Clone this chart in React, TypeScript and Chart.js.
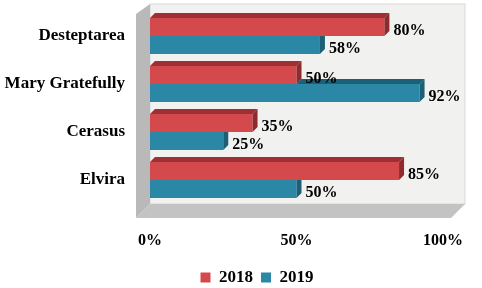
import React, { useEffect, useRef } from "react";
import { Chart, registerables } from "chart.js";

Chart.register(...registerables);

const categories = ["Desteptarea", "Mary Gratefully", "Cerasus", "Elvira"];
const series2018 = [80, 50, 35, 85];
const series2019 = [58, 92, 25, 50];
const seriesNames = ["2018", "2019"];
const xTicks = [0, 50, 100];

const RED = "#d4494c";
const RED_DARK = "#9e2f33";
const BLUE = "#2a87a6";
const BLUE_DARK = "#1d5f76";
const FONT = "'Liberation Serif', 'Times New Roman', serif";

const threeD = {
  id: "threeD",
  afterLayout(chart: any) {
    if (chart.legend) {
      chart.legend.left += 32;
      chart.legend.right += 32;
      chart.legend.top += 8;
      chart.legend.bottom += 8;
    }
  },
  beforeDatasetsDraw(chart: any) {
    const { ctx, chartArea } = chart;
    const { left, right, top, bottom } = chartArea;
    ctx.save();
    ctx.fillStyle = "#f1f1f0";
    ctx.fillRect(left, top - 8, right - left + 22, bottom - top + 8);
    ctx.strokeStyle = "#d9d9d9";
    ctx.lineWidth = 1;
    ctx.strokeRect(left, top - 8, right - left + 22, bottom - top + 8);
    ctx.fillStyle = "#b9b9b9";
    ctx.beginPath();
    ctx.moveTo(left - 14, top + 2);
    ctx.lineTo(left, top - 8);
    ctx.lineTo(left, bottom);
    ctx.lineTo(left - 14, bottom + 14);
    ctx.closePath();
    ctx.fill();
    ctx.fillStyle = "#c3c3c3";
    ctx.beginPath();
    ctx.moveTo(left - 14, bottom + 14);
    ctx.lineTo(left, bottom);
    ctx.lineTo(right + 22, bottom);
    ctx.lineTo(right + 8, bottom + 14);
    ctx.closePath();
    ctx.fill();
    ctx.restore();
  },
  afterDatasetsDraw(chart: any) {
    const { ctx } = chart;
    const d = 5;
    const m0 = chart.getDatasetMeta(0).data;
    const m1 = chart.getDatasetMeta(1).data;
    ctx.save();
    m1.forEach((bar: any, i: number) => {
      const p = bar.getProps(["x", "y", "base", "height"], true);
      const y0 = p.y - p.height / 2;
      const y1 = p.y + p.height / 2;
      const red = m0[i].getProps(["x"], true);
      if (p.x > red.x) {
        ctx.fillStyle = BLUE_DARK;
        ctx.beginPath();
        ctx.moveTo(red.x, y0);
        ctx.lineTo(p.x, y0);
        ctx.lineTo(p.x + d, y0 - d);
        ctx.lineTo(red.x + d, y0 - d);
        ctx.closePath();
        ctx.fill();
      }
      ctx.fillStyle = BLUE_DARK;
      ctx.beginPath();
      ctx.moveTo(p.x, y0);
      ctx.lineTo(p.x, y1);
      ctx.lineTo(p.x + d, y1 - d);
      ctx.lineTo(p.x + d, p.x > red.x ? y0 - d : y0);
      ctx.closePath();
      ctx.fill();
    });
    m0.forEach((bar: any) => {
      const p = bar.getProps(["x", "y", "base", "height"], true);
      const y0 = p.y - p.height / 2;
      const y1 = p.y + p.height / 2;
      ctx.fillStyle = RED_DARK;
      ctx.beginPath();
      ctx.moveTo(p.base, y0);
      ctx.lineTo(p.x, y0);
      ctx.lineTo(p.x + d, y0 - d);
      ctx.lineTo(p.base + d, y0 - d);
      ctx.closePath();
      ctx.fill();
      ctx.fillStyle = "#8f2a2e";
      ctx.beginPath();
      ctx.moveTo(p.x, y0);
      ctx.lineTo(p.x, y1);
      ctx.lineTo(p.x + d, y1 - d);
      ctx.lineTo(p.x + d, y0 - d);
      ctx.closePath();
      ctx.fill();
    });
    ctx.fillStyle = "#000";
    ctx.font = `bold 16px ${FONT}`;
    ctx.textAlign = "left";
    ctx.textBaseline = "middle";
    [m0, m1].forEach((meta: any[], di: number) => {
      const vals = di === 0 ? series2018 : series2019;
      meta.forEach((bar: any, i: number) => {
        const p = bar.getProps(["x", "y"], true);
        ctx.fillText(vals[i] + "%", p.x + d + 4, p.y + 4);
      });
    });
    ctx.restore();
  },
};

export default function App() {
  const ref = useRef<HTMLCanvasElement>(null);
  useEffect(() => {
    if (!ref.current) return;
    const chart = new Chart(ref.current, {
      type: "bar",
      data: {
        labels: categories,
        datasets: [
          { label: seriesNames[0], data: series2018, backgroundColor: RED, borderWidth: 0 },
          { label: seriesNames[1], data: series2019, backgroundColor: BLUE, borderWidth: 0 },
        ],
      },
      options: {
        indexAxis: "y",
        animation: false,
        responsive: false,
        maintainAspectRatio: false,
        layout: { padding: { top: 12, right: 32, left: 0, bottom: 0 } },
        datasets: { bar: { barPercentage: 1, categoryPercentage: 0.75 } },
        scales: {
          x: {
            min: 0,
            max: 100,
            afterBuildTicks: (s: any) => {
              s.ticks = xTicks.map((v) => ({ value: v }));
            },
            afterFit: (s: any) => {
              s.height = 49;
            },
            grid: { display: false },
            border: { display: false },
            ticks: {
              color: "#000",
              padding: 19,
              maxRotation: 0,
              font: { family: FONT, size: 16, weight: "bold" },
              callback: (v: any) => v + "%",
            },
          },
          y: {
            afterFit: (s: any) => {
              s.width = 150;
              s.paddingTop = 0;
              s.paddingBottom = 0;
            },
            grid: { display: false },
            border: { display: false },
            ticks: {
              color: "#000",
              padding: 17,
              font: { family: FONT, size: 17, weight: "bold" },
            },
          },
        },
        plugins: {
          legend: {
            position: "bottom",
            labels: {
              color: "#000",
              boxWidth: 10,
              boxHeight: 10,
              padding: 8,
              font: { family: FONT, size: 17, weight: "bold" },
            },
          },
          tooltip: { enabled: false },
        },
      },
      plugins: [threeD],
    } as any);
    return () => chart.destroy();
  }, []);
  return (
    <div style={{ position: "fixed", left: 0, top: 0, width: 482, height: 288, background: "#fff" }}>
      <canvas ref={ref} width={482} height={288} />
    </div>
  );
}
